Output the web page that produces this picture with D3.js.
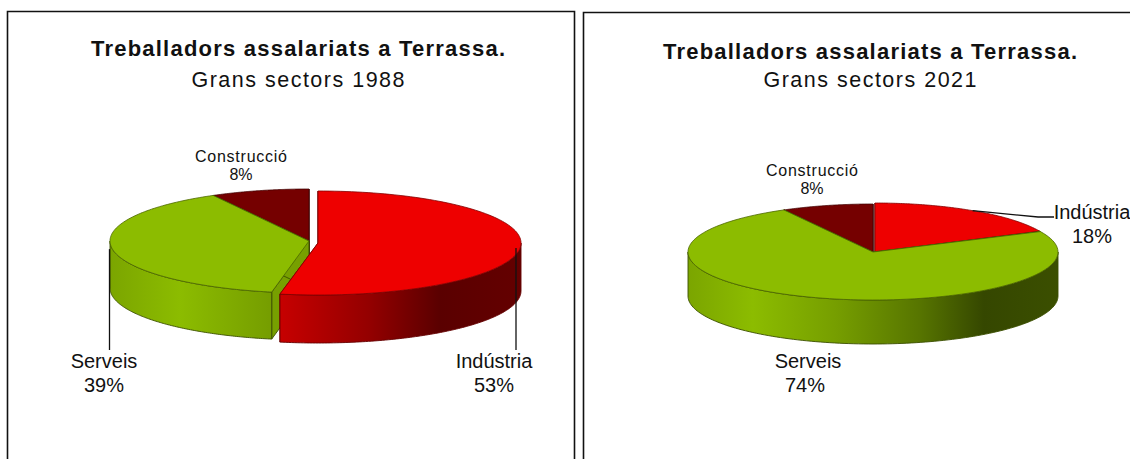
<!DOCTYPE html>
<html><head><meta charset="utf-8">
<script src="https://cdn.jsdelivr.net/npm/d3@7"></script>
<style>html,body{margin:0;background:#fff}svg{display:block}text{font-family:"Liberation Sans",Arial,sans-serif;fill:#111}</style>
</head><body><svg id="c" width="1130" height="459"></svg>
<script>
const categories = ["Indústria","Serveis","Construcció"];
const values1988 = [53,39,8];
const values2021 = [18,74,8];
const titleText = "Treballadors assalariats a Terrassa.";
const subtitle1988 = "Grans sectors 1988";
const subtitle2021 = "Grans sectors 2021";
const colors = ["#ee0000","#8cbc00","#750000"];
const shadeAt = [-1,-0.65,-0.2,0.25,0.6,1];
const shadeVal = [0.88,1,0.84,0.62,0.38,0.42];

const svg = d3.select("#c");
const defs = svg.append("defs");

const frameLine = d3.line();
svg.append("path").attr("d",frameLine([[7.5,459],[7.5,11.5],[574.5,11.5],[574.5,459]])).attr("fill","none").attr("stroke","#111").attr("stroke-width",1.6);
svg.append("path").attr("d",frameLine([[583.5,459],[583.5,12.5],[1130,12.5]])).attr("fill","none").attr("stroke","#111").attr("stroke-width",1.6);

const pies = [
 {id:"a",values:values1988,sub:subtitle1988,tx:298,titleY:56,subY:87,order:[2,1,0],
  geo:[{cx:318,cy:243,rx:203,ry:52,d:48},{cx:309,cy:241,rx:199,ry:52,d:47},{cx:309,cy:241,rx:199,ry:52,d:47}],
  labels:[{x:494,y:368,vx:516,line:[[516,350]]},{x:104,y:368,vx:109.5,line:[[109.5,350]]},{x:241,y:162}]},
 {id:"b",values:values2021,sub:subtitle2021,tx:870,titleY:59,subY:87,order:[2,0,1],
  geo:[{cx:875,cy:252,rx:182,ry:49,d:44},{cx:873,cy:252,rx:185,ry:48,d:44},{cx:873,cy:252,rx:185,ry:48,d:44}],
  labels:[{x:1092,y:219,line:[[1038,217],[1054,217]]},{x:808,y:368},{x:812,y:176}]}
];

const pieGen = d3.pie().sort(null).value(d=>d);
const curve = d3.line();

function darken(col,k){const c=d3.rgb(col);return d3.rgb(c.r*k,c.g*k,c.b*k).formatHex();}

pies.forEach(P=>{
  const arcs = pieGen(P.values);
  const pt=(g,a,dy=0)=>[g.cx+g.rx*Math.sin(a),g.cy-g.ry*Math.cos(a)+dy];
  const rim=(g,a0,a1,dy=0)=>d3.range(0,121).map(i=>pt(g,a0+(a1-a0)*i/120,dy));
  const g0 = svg.append("g");
  P.order.forEach(i=>{
    const a=arcs[i], g=P.geo[i], col=colors[i];
    const cen=[g.cx,g.cy], cenD=[g.cx,g.cy+g.d];
    [a.startAngle,a.endAngle].forEach(t=>{
      g0.append("path").attr("d",curve([cen,pt(g,t),pt(g,t,g.d),cenD])+"Z")
        .attr("fill",darken(col,0.85)).attr("stroke",darken(col,0.42)).attr("stroke-width",0.9);
    });
    const s=Math.max(a.startAngle,Math.PI/2), e=Math.min(a.endAngle,Math.PI*1.5);
    if(e>s){
      const gid=`g${P.id}${i}`;
      const lg=defs.append("linearGradient").attr("id",gid).attr("gradientUnits","userSpaceOnUse")
        .attr("x1",g.cx-g.rx).attr("x2",g.cx+g.rx).attr("y1",0).attr("y2",0);
      shadeAt.forEach((p,j)=>lg.append("stop").attr("offset",(p+1)/2).attr("stop-color",darken(col,shadeVal[j])));
      const top=rim(g,s,e), bot=rim(g,e,s,g.d);
      g0.append("path").attr("d",curve(top.concat(bot))+"Z").attr("fill",`url(#${gid})`)
        .attr("stroke",darken(col,0.42)).attr("stroke-width",0.9);
    }
    g0.append("path").attr("d",curve([cen].concat(rim(g,a.startAngle,a.endAngle)))+"Z")
      .attr("fill",col).attr("stroke",darken(col,0.55)).attr("stroke-width",0.8);
  });

  svg.append("text").attr("x",P.tx).attr("y",P.titleY).attr("text-anchor","middle")
    .attr("font-size",22).attr("font-weight","bold").attr("textLength",414).attr("lengthAdjust","spacing").text(titleText);
  svg.append("text").attr("x",P.tx).attr("y",P.subY).attr("text-anchor","middle")
    .attr("font-size",21.5).attr("textLength",213).attr("lengthAdjust","spacing").text(P.sub);

  categories.forEach((c,i)=>{
    const L=P.labels[i], g=P.geo[i], a=arcs[i], small=i===2;
    if(L.line){
      const m=pt(g,(a.startAngle+a.endAngle)/2);
      if(L.vx!==undefined) m[0]=L.vx;
      g0.append("path").attr("d",curve([m].concat(L.line))).attr("fill","none").attr("stroke","#111").attr("stroke-width",1.3);
    }
    const fs=small?16:20, lh=small?17.5:23.5;
    const t=svg.append("text").attr("x",L.x).attr("y",L.y).attr("text-anchor","middle").attr("font-size",fs).text(c);
    if(small) t.attr("textLength",92).attr("lengthAdjust","spacing");
    svg.append("text").attr("x",i===1&&P.id==="b"?L.x-3:L.x).attr("y",L.y+lh).attr("text-anchor","middle").attr("font-size",fs).text(P.values[i]+"%");
  });
});
</script></body></html>
